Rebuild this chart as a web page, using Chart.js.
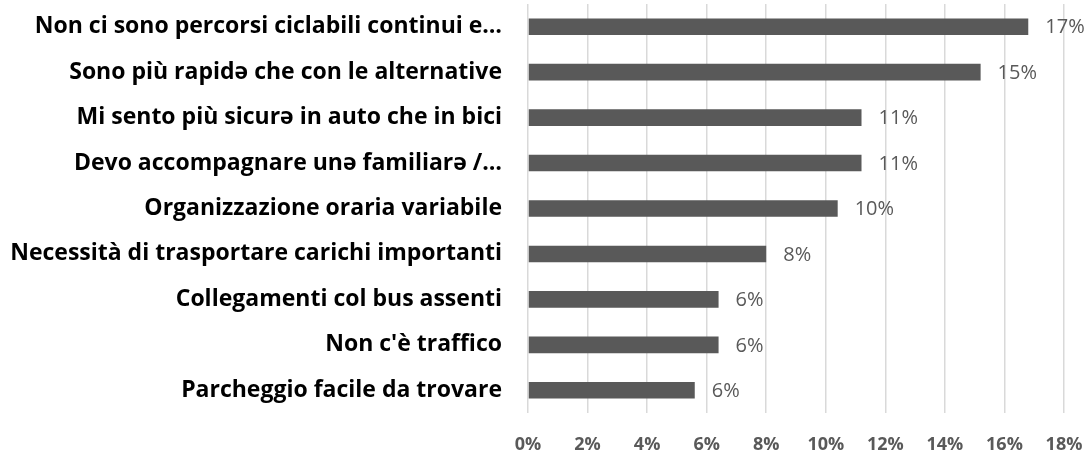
<!DOCTYPE html>
<html>
<head>
<meta charset="utf-8">
<script src="https://cdn.jsdelivr.net/npm/chart.js@4"></script>
<style>
html,body{margin:0;padding:0;background:#fff;}
#wrap{width:1088px;height:453px;}
</style>
</head>
<body>
<div id="wrap"><canvas id="c" width="1088" height="453"></canvas></div>
<script>
const categories = [
  "Non ci sono percorsi ciclabili continui e…",
  "Sono più rapidə che con le alternative",
  "Mi sento più sicurə in auto che in bici",
  "Devo accompagnare unə familiarə /…",
  "Organizzazione oraria variabile",
  "Necessità di trasportare carichi importanti",
  "Collegamenti col bus assenti",
  "Non c'è traffico",
  "Parcheggio facile da trovare"
];
const values = [0.168, 0.152, 0.112, 0.112, 0.104, 0.080, 0.064, 0.064, 0.056];
const valueLabels = ["17%", "15%", "11%", "11%", "10%", "8%", "6%", "6%", "6%"];
const tickLabels = ["0%", "2%", "4%", "6%", "8%", "10%", "12%", "14%", "16%", "18%"];

const FONT = "'Open Sans', 'DejaVu Sans', sans-serif";

const labelPlugin = {
  id: 'valueLabels',
  afterDatasetsDraw(chart) {
    const ctx = chart.ctx;
    const meta = chart.getDatasetMeta(0);
    ctx.save();
    ctx.font = "20px " + FONT;
    ctx.fillStyle = "#595959";
    ctx.textAlign = "left";
    ctx.textBaseline = "middle";
    meta.data.forEach((bar, i) => {
      ctx.fillText(valueLabels[i], bar.x + 17, bar.y + 1);
    });
    ctx.restore();
  }
};

new Chart(document.getElementById('c'), {
  type: 'bar',
  data: {
    labels: categories,
    datasets: [{
      data: values,
      backgroundColor: '#595959',
      borderWidth: 0,
      barPercentage: 0.365,
      categoryPercentage: 1.0
    }]
  },
  options: {
    indexAxis: 'y',
    responsive: false,
    animation: false,
    devicePixelRatio: 1,
    layout: { padding: { top: 4, right: 24, left: 0, bottom: 0 } },
    plugins: { legend: { display: false }, tooltip: { enabled: false } },
    scales: {
      x: {
        min: 0, max: 0.18,
        ticks: {
          stepSize: 0.02,
          color: '#595959',
          font: { family: FONT, size: 18, weight: 'bold' },
          padding: 21,
          maxRotation: 0,
          callback: (v, i) => tickLabels[i]
        },
        grid: { color: '#d9d9d9', lineWidth: 1.5, drawTicks: false },
        border: { display: false },
        afterFit(s) { s.height = 40; s.paddingLeft = 0; s.paddingRight = 0; }
      },
      y: {
        ticks: {
          color: '#000000',
          font: { family: FONT, size: 23, weight: 'bold' },
          padding: 26,
          autoSkip: false
        },
        grid: { display: false, drawTicks: false },
        border: { display: false },
        afterFit(s) { s.width = 528; s.paddingTop = 0; s.paddingBottom = 0; }
      }
    }
  },
  plugins: [labelPlugin]
});
</script>
</body>
</html>
